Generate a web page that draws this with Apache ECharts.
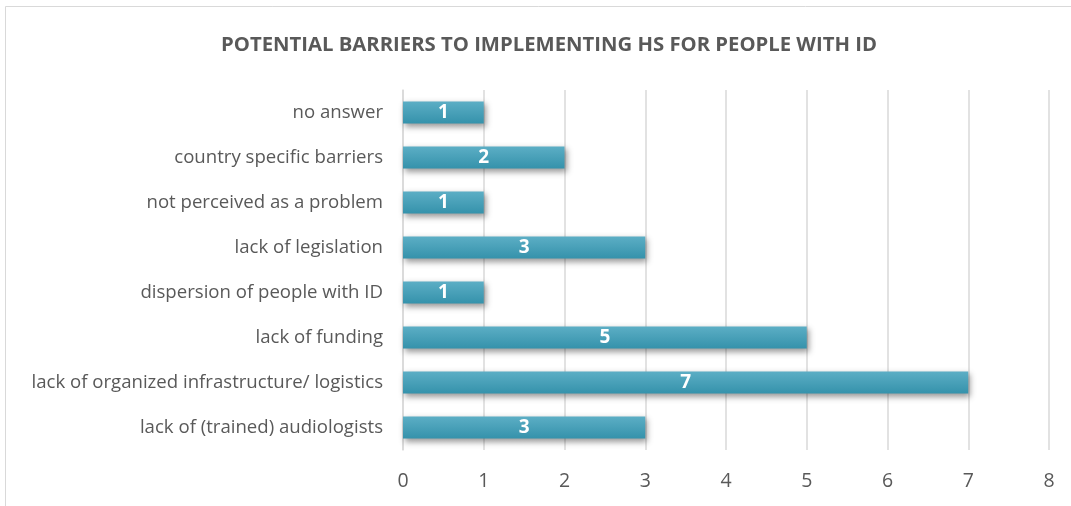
<!DOCTYPE html>
<html><head><meta charset="utf-8">
<script src="https://cdn.jsdelivr.net/npm/echarts@6/dist/echarts.min.js"></script>
<style>html,body{margin:0;padding:0;background:#fff}#c{width:1071px;height:506px}</style>
</head><body><div id="c"></div>
<script>
const categories = ["lack of (trained) audiologists","lack of organized infrastructure/ logistics","lack of funding","dispersion of people with ID","lack of legislation","not perceived as a problem","country specific barriers","no answer"];
const values = [3,7,5,1,3,1,2,1];
const chart = echarts.init(document.getElementById('c'));
chart.setOption({
  animation:false,
  backgroundColor:'#fff',
  title:{text:'POTENTIAL BARRIERS TO IMPLEMENTING HS FOR PEOPLE WITH ID',left:544,textAlign:'center',top:30,
    textStyle:{fontFamily:'Open Sans',fontWeight:'bold',fontSize:20.3,color:'#595959'}},
  graphic:[{type:'rect',shape:{x:5.5,y:6.5,width:1080,height:520},style:{fill:'none',stroke:'#d9d9d9',lineWidth:1}}],
  grid:{left:403,right:22,top:90,bottom:56},
  xAxis:{type:'value',min:0,max:8,interval:1,
    axisLine:{show:false},axisTick:{show:false},
    axisLabel:{fontFamily:'Open Sans',fontSize:19.5,color:'#595959',margin:21},
    splitLine:{lineStyle:{color:'#d9d9d9',width:1.5}}},
  yAxis:{type:'category',data:categories,
    axisLine:{show:true,lineStyle:{color:'#d9d9d9',width:1.5}},axisTick:{show:false},
    axisLabel:{fontFamily:'Open Sans',fontSize:18.6,color:'#595959',margin:20}},
  series:[{type:'bar',data:values,barWidth:'49%',
    itemStyle:{color:new echarts.graphic.LinearGradient(0,0,0,1,[{offset:0,color:'#5caec5'},{offset:1,color:'#3592ab'}]),
      shadowColor:'rgba(0,0,0,0.4)',shadowBlur:6,shadowOffsetX:2,shadowOffsetY:3},
    label:{show:true,position:'inside',fontFamily:'Open Sans',fontWeight:'bold',fontSize:19,color:'#fff'}}]
});
</script></body></html>
